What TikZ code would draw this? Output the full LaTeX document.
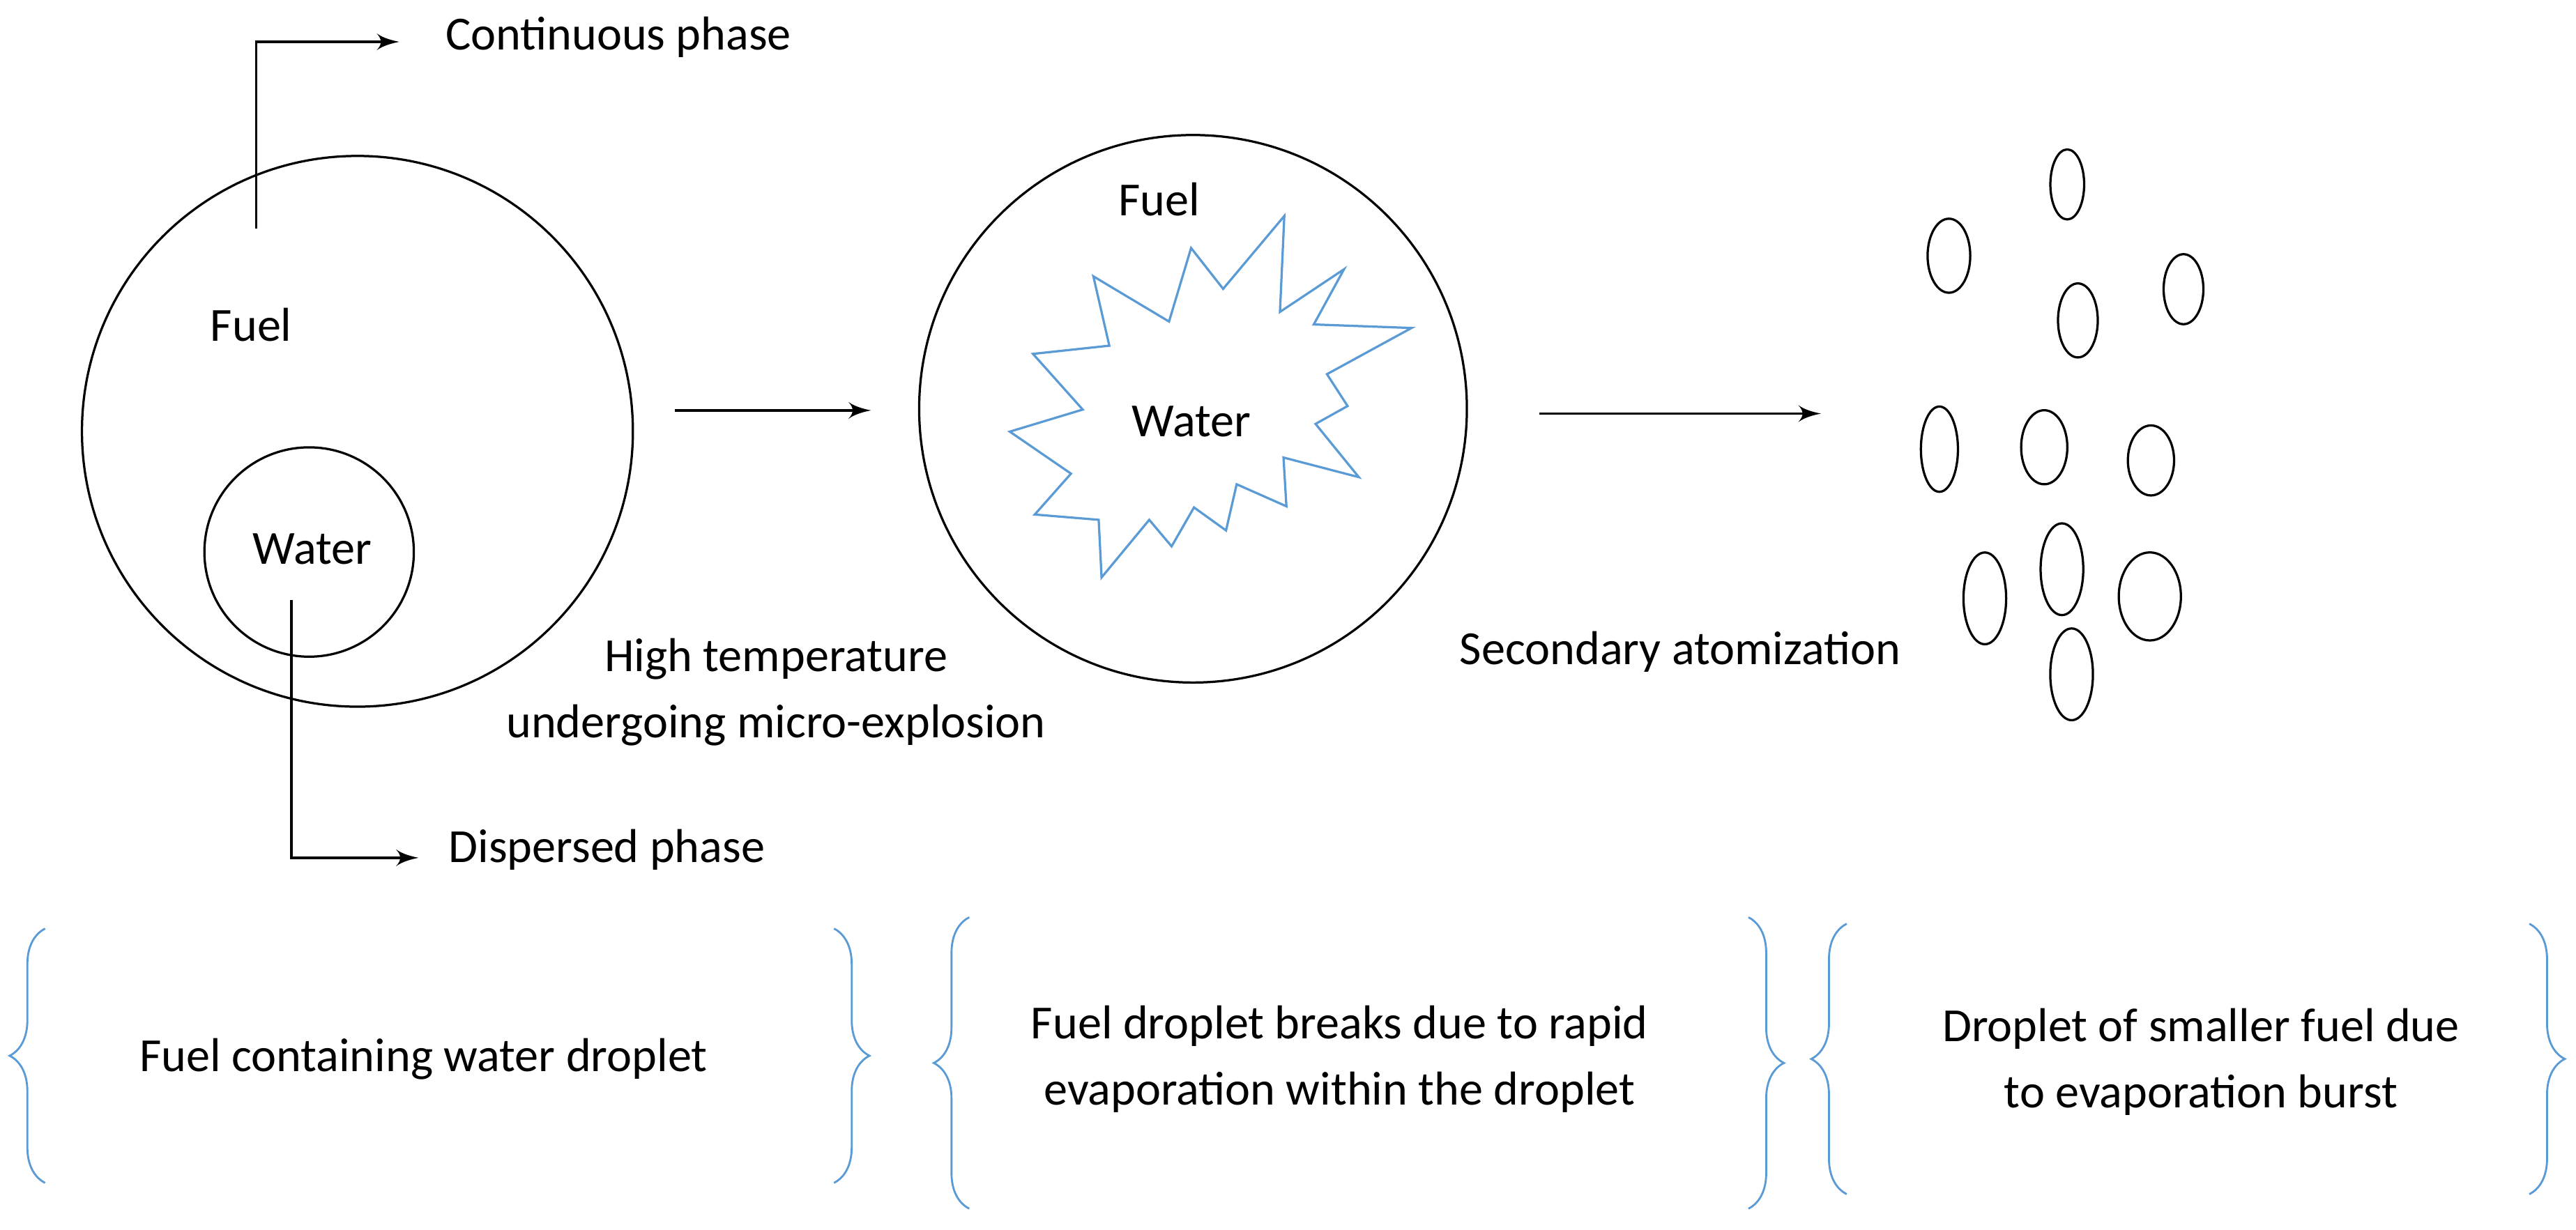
\documentclass[tikz,border=0pt]{standalone}
\usepackage{fontspec}
\setmainfont{Carlito}
\usetikzlibrary{arrows, positioning, shapes.geometric, decorations.pathreplacing}
\definecolor{bracecol}{RGB}{91,155,213}
\tikzset{>=latex', line width=0.45pt,
    droplet/.style={circle,draw,inner sep=0pt},
    bit/.style={ellipse,draw,inner sep=0pt},
    textnode/.style={font=\fontsize{8.4}{11.7}\selectfont,inner sep=0pt},
    phase/.style={->},
    curly/.style={bracecol,line width=0.35pt,decorate,decoration={brace,amplitude=0.22cm}}}
\begin{document}
\begin{tikzpicture}[x=0.01cm,y=-0.01cm]
\useasboundingbox (0,0) rectangle (1600,764);
% first droplet
\node[droplet,minimum size=3.42cm] (big) at (222,268) {};
\node[droplet,minimum size=1.3cm] (small) at (192,343) {};
\node[textnode] (fuel1) at (156,202) {Fuel};
\node[textnode] (water1) at (194,341) {Water};
\coordinate (c1) at (159,142);
\coordinate (d1) at (181,373);
\node[textnode,anchor=west] (cont) at (276,23) {Continuous phase};
\node[textnode,anchor=west] (disp) at (278,528) {Dispersed phase};
\draw[phase] (c1) |- (248,26);
\draw[phase] (d1) |- (260,533);
% second droplet
\node[droplet,minimum size=3.4cm] (mid) at (741,254) {};
\node[textnode] (fuel2) at (720,124) {Fuel};
\draw[bracecol] (679.1,171.7) -- (726.1,199.8) -- (739.8,154.1) -- (759.7,179.5) -- (797.7,134.2)
  -- (795.0,193.8) -- (834.8,167.3) -- (816.0,201.6) -- (876.7,203.8) -- (824.2,232.5)
  -- (837.0,252.3) -- (817.1,263.4) -- (844.0,296.5) -- (797.2,284.3) -- (799.0,314.6)
  -- (768.1,300.9) -- (761.5,329.6) -- (741.6,315.3) -- (727.7,339.5) -- (713.8,323.0)
  -- (684.2,358.8) -- (682.4,323.0) -- (642.7,319.7) -- (665.2,294.3) -- (627.2,268.2)
  -- (672.5,254.5) -- (641.6,219.9) -- (689.0,214.8) -- cycle;
\node[textnode] (water2) at (740,262) {Water};
% arrows between stages
\coordinate (a1) at (419,255);
\coordinate (a2) at (541,255);
\coordinate (a3) at (956,257);
\coordinate (a4) at (1131,257);
\draw[->] (a1) -- (a2);
\draw[->] (a3) -- (a4);
\node[textnode,align=center] (heat) at (482,430) {High temperature\\undergoing micro-explosion};
\node[textnode,anchor=west] (sec) at (906,405) {Secondary atomization};
% small droplets
\foreach \x/\y/\w/\h in {1284/114.6/21/43.5, 1210.5/158.9/26.5/46, 1290.6/199.1/24.7/46,
    1356.2/179.7/24.7/43.5, 1204.6/279.1/23/53, 1269.7/277.9/28.7/46, 1336/286.1/28.7/43.5,
    1232.8/371.8/26.5/57, 1280.7/353.7/26.5/57, 1335.3/370.6/38.6/54.7, 1286.7/419/26.5/57}
  \node[bit,minimum width=\w*0.01cm,minimum height=\h*0.01cm] at (\x,\y) {};
% braces
\draw[curly] (28,735) -- (28,577);
\draw[curly] (518,577) -- (518,735);
\draw[curly] (602,751) -- (602,570);
\draw[curly] (1086,570) -- (1086,751);
\draw[curly] (1147,742) -- (1147,574);
\draw[curly] (1571,574) -- (1571,742);
\node[textnode] (t1) at (263,658) {Fuel containing water droplet};
\node[textnode,align=center] (t2) at (832,658) {Fuel droplet breaks due to rapid\\evaporation within the droplet};
\node[textnode,align=center] (t3) at (1367,660) {Droplet of smaller fuel due\\to evaporation burst};
\end{tikzpicture}
\end{document}
